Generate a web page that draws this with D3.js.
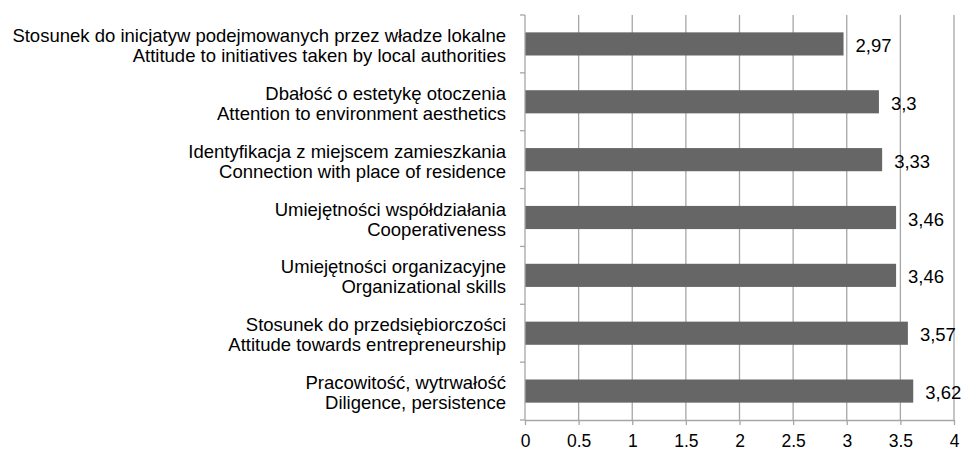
<!DOCTYPE html>
<html lang="pl">
<head>
    <meta charset="UTF-8">
    <title>Attitudes</title>
    <style>
        body { margin: 0; background: #fff; }
        text { font-family: "Liberation Sans", Arial, sans-serif; fill: #000; }
        .grid line { stroke: #a6a6a6; stroke-width: 1.3; }
        .axis path, .axis line { stroke: #a6a6a6; stroke-width: 1.3; }
        .axis text { font-size: 17.5px; }
    </style>
</head>
<body>
<svg height="453" width="961"></svg>

<script src="https://d3js.org/d3.v7.min.js"></script>
<script>

    // categories, top to bottom, Polish / English
    var labelsPl = [
        "Stosunek do inicjatyw podejmowanych przez władze lokalne",
        "Dbałość o estetykę otoczenia",
        "Identyfikacja z miejscem zamieszkania",
        "Umiejętności współdziałania",
        "Umiejętności organizacyjne",
        "Stosunek do przedsiębiorczości",
        "Pracowitość, wytrwałość"
    ];
    var labelsEn = [
        "Attitude to initiatives taken by local authorities",
        "Attention to environment  aesthetics",
        "Connection with place of residence",
        "Cooperativeness",
        "Organizational skills",
        "Attitude towards entrepreneurship",
        "Diligence, persistence"
    ];
    var values = [2.97, 3.3, 3.33, 3.46, 3.46, 3.57, 3.62];
    var xTicks = [0, 0.5, 1, 1.5, 2, 2.5, 3, 3.5, 4];

    var svg = d3.select("svg"),
        margins = {top: 15, right: 7, bottom: 33, left: 525};

    var width = +svg.attr("width") - margins.left - margins.right;
    var height = +svg.attr("height") - margins.top - margins.bottom;

    var g = svg.append("g")
        .attr("transform", "translate(" + margins.left + "," + margins.top + ")");

    var x = d3.scaleLinear().domain([0, 4]).range([0, width]);
    var y = d3.scaleBand().domain(d3.range(values.length)).range([0, height])
        .paddingInner(0.6).paddingOuter(0.3);
    var band = d3.scaleBand().domain(d3.range(values.length)).range([0, height]);

    // vertical gridlines
    g.append("g")
        .attr("class", "grid")
        .selectAll("line")
        .data(xTicks.slice(1))
        .enter().append("line")
        .attr("x1", function(d) { return x(d); })
        .attr("x2", function(d) { return x(d); })
        .attr("y1", 0)
        .attr("y2", height);

    g.selectAll(".bar")
        .data(values)
        .enter().append("rect")
        .attr("class", "bar")
        .attr("x", 0)
        .attr("y", function(d, i) { return y(i); })
        .attr("width", function(d) { return x(d); })
        .attr("height", y.bandwidth())
        .attr("fill", "#666666");

    g.selectAll(".val")
        .data(values)
        .enter().append("text")
        .attr("class", "val")
        .attr("x", function(d) { return x(d) + 12; })
        .attr("y", function(d, i) { return y(i) + y.bandwidth() / 2 + 8; })
        .style("font-size", "18.5px")
        .text(function(d) { return String(d).replace(".", ","); });

    var xAxis = d3.axisBottom(x)
        .tickValues(xTicks)
        .tickFormat(function(d) { return d; })
        .tickSize(5)
        .tickPadding(10)
        .tickSizeOuter(0);

    g.append("g")
        .attr("class", "x axis")
        .attr("transform", "translate(0," + height + ")")
        .call(xAxis);

    // left axis with ticks on band boundaries
    var yAxisG = g.append("g").attr("class", "y axis");
    yAxisG.append("line")
        .attr("x1", 0).attr("x2", 0)
        .attr("y1", 0).attr("y2", height);
    yAxisG.selectAll(".tk")
        .data(d3.range(values.length + 1))
        .enter().append("line")
        .attr("x1", -5).attr("x2", 0)
        .attr("y1", function(i) { return i * band.step(); })
        .attr("y2", function(i) { return i * band.step(); });

    var lab = g.selectAll(".cat")
        .data(labelsPl)
        .enter().append("text")
        .attr("class", "cat")
        .attr("text-anchor", "end")
        .style("font-size", "18.5px")
        .attr("transform", function(d, i) {
            return "translate(-19," + (band(i) + band.step() / 2) + ")";
        });
    lab.append("tspan").attr("x", 0).attr("y", -2).text(function(d) { return d; });
    lab.append("tspan").attr("x", 0).attr("y", 18).text(function(d, i) { return labelsEn[i]; });

</script>
</body>
</html>
